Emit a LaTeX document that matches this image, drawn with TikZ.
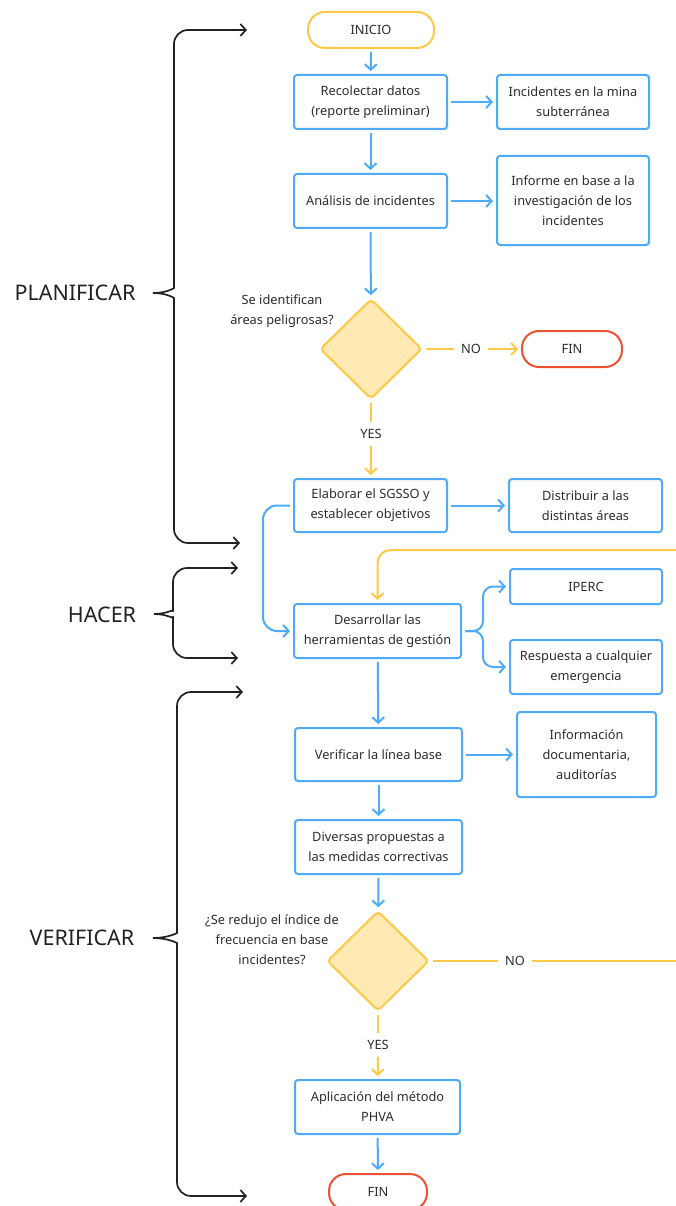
\documentclass[tikz,border=0pt]{standalone}
\usepackage{fontspec}
\setmainfont{Noto Sans}
\usetikzlibrary{arrows.meta,shapes.geometric}
\definecolor{bl}{RGB}{77,171,247}
\definecolor{yl}{RGB}{255,200,70}
\definecolor{ylf}{RGB}{255,234,180}
\definecolor{rd}{RGB}{238,82,52}
\definecolor{blk}{RGB}{34,34,34}
\definecolor{txt}{RGB}{45,45,45}
\newcommand\bodyfont{\fontsize{12.8}{20}\selectfont}
\begin{document}
\begin{tikzpicture}[x=1pt,y=-1pt,
  box/.style={draw=bl, line width=2pt, rounded corners=3pt, fill=white, align=center, inner sep=0pt, text=txt, font=\bodyfont},
  term/.style={draw=#1, line width=2pt, rounded corners=17pt, fill=white, inner sep=0pt, text=txt, font=\bodyfont, minimum height=36},
  dia/.style={diamond, draw=yl, fill=ylf, line width=2pt, rounded corners=4pt, inner sep=0pt, minimum width=102, minimum height=100},
  lbl/.style={align=center, text=txt, font=\bodyfont, inner sep=4pt},
  big/.style={text=blk, font=\fontsize{21.5}{24}\selectfont, inner sep=0pt},
  tip/.style={-{Straight Barb[length=5.5pt,width=12pt]}},
  bar/.style={draw=bl, line width=2pt, shorten >=3pt, shorten <=3pt},
  yar/.style={draw=yl, line width=2pt, shorten >=3pt, shorten <=3pt},
  bk/.style={draw=blk, line width=1.7pt, rounded corners=14pt, tip},
]
\useasboundingbox (0,0) rectangle (675,1206);
\fill[white] (0,0) rectangle (675,1206);

% nodes
\node[term=yl, minimum width=126] (ini) at (371,30) {INICIO};
\node[box, minimum width=153, minimum height=54] (rec) at (370.5,102) {Recolectar datos\\(reporte preliminar)};
\node[box, minimum width=152, minimum height=54] (inc) at (573,102) {Incidentes en la mina\\subterránea};
\node[box, minimum width=153, minimum height=54] (ana) at (370.5,201) {Análisis de incidentes};
\node[box, minimum width=152, minimum height=89] (inf) at (573,200.5) {Informe en base a la\\investigación de los\\incidentes};
\node[dia] (d1) at (371,349) {};
\node[lbl] (q1) at (282,311) {Se identifican\\áreas peligrosas?};
\node[lbl] (no1) at (471,349) {NO};
\node[term=rd, minimum width=100] (fin1) at (572,349) {FIN};
\node[lbl] (yes1) at (371,434) {YES};
\node[box, minimum width=153, minimum height=53] (ela) at (370.5,505.5) {Elaborar el SGSSO y\\establecer objetivos};
\node[box, minimum width=153, minimum height=53] (dis) at (585.5,505.5) {Distribuir a las\\distintas áreas};
\node[box, minimum width=167, minimum height=54] (des) at (377.5,631) {Desarrollar las\\herramientas de gestión};
\node[box, minimum width=152, minimum height=35] (ipe) at (586,586.5) {IPERC};
\node[box, minimum width=152, minimum height=54] (res) at (586,667) {Respuesta a cualquier\\emergencia};
\node[box, minimum width=167, minimum height=53] (ver) at (378.5,754.5) {Verificar la línea base};
\node[box, minimum width=139, minimum height=85] (doc) at (586.5,754.5) {Información\\documentaria,\\auditorías};
\node[box, minimum width=167, minimum height=54] (div) at (378.5,847) {Diversas propuestas a\\las medidas correctivas};
\node[dia] (d2) at (378,961) {};
\node[lbl] (q2) at (272,940) {¿Se redujo el índice de\\frecuencia en base\\incidentes?};
\node[lbl] (no2) at (515,961) {NO};
\node[lbl] (yes2) at (378,1045) {YES};
\node[box, minimum width=165, minimum height=54] (apl) at (377.5,1107) {Aplicación del método\\PHVA};
\node[term=rd, minimum width=98] (fin2) at (378,1192) {FIN};

\node[big] (lp) at (75,293) {PLANIFICAR};
\node[big] (lh) at (102,615) {HACER};
\node[big] (lv) at (82,938) {VERIFICAR};

% blue connectors
\draw[bar, tip] (ini) -- (rec);
\draw[bar, tip] (rec) -- (inc);
\draw[bar, tip] (rec) -- (ana);
\draw[bar, tip] (ana) -- (inf.west |- ana);
\draw[bar, tip] (ana) -- (d1);
\draw[bar, tip] (ela) -- (dis);
\draw[bar, tip, rounded corners=14pt] (ela.west) -- (263,505.5) -- (263,631) -- (des.west);
\draw[bar, tip, rounded corners=10pt] (des.east) -- (483,631) -- (483,586.5) -- (ipe.west);
\draw[bar, tip, rounded corners=10pt] (des.east) -- (483,631) -- (483,667) -- (res.west);
\draw[bar, tip] (des) -- (ver);
\draw[bar, tip] (ver) -- (doc);
\draw[bar, tip] (ver) -- (div);
\draw[bar, tip] (div) -- (d2);
\draw[bar, tip] (apl) -- (fin2);

% yellow connectors
\draw[yar] (d1.east) -- (no1);
\draw[yar, tip] (no1) -- (fin1);
\draw[yar] (d1.south) -- (yes1);
\draw[yar, tip] (yes1) -- (ela);
\draw[yar] (d2.east) -- (no2);
\coordinate (e1) at (677,961);
\coordinate (e2) at (677,550);
\draw[draw=yl, line width=2pt, shorten <=3pt] (no2) -- (e1);
\draw[draw=yl, line width=2pt, shorten >=3pt, tip, rounded corners=13pt] (e2) -- (377.5,550) -- (des.north);
\draw[yar] (d2.south) -- (yes2);
\draw[yar, tip] (yes2) -- (apl);

% braces
\coordinate (cp) at (153,293);
\coordinate (pt) at (247,30);
\coordinate (pb) at (240,543);
\draw[bk] (cp) .. controls (167,293) and (174,288) .. (174,274) -- (174,30) -- (pt);
\draw[bk] (cp) .. controls (167,293) and (174,298) .. (174,312) -- (174,543) -- (pb);
\coordinate (ch) at (154,614);
\coordinate (ht) at (238,568);
\coordinate (hb) at (238,658);
\draw[bk] (ch) .. controls (167,614) and (173,609) .. (173,597) -- (173,568) -- (ht);
\draw[bk] (ch) .. controls (167,614) and (173,619) .. (173,631) -- (173,658) -- (hb);
\coordinate (cv) at (153,938);
\coordinate (vt) at (243,692);
\coordinate (vb) at (247,1196);
\draw[bk] (cv) .. controls (168,938) and (177,933) .. (177,919) -- (177,692) -- (vt);
\draw[bk] (cv) .. controls (168,938) and (177,943) .. (177,957) -- (177,1196) -- (vb);
\end{tikzpicture}
\end{document}
